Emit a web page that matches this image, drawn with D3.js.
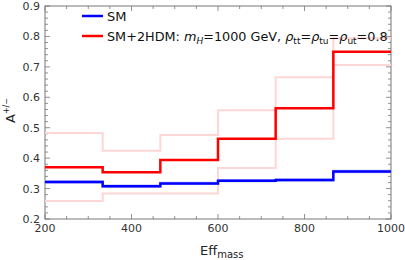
<!DOCTYPE html>
<html>
<head>
<meta charset="utf-8">
<script src="https://cdn.jsdelivr.net/npm/d3@7"></script>
<style>
  body { margin: 0; background: #fff; }
  text { font-family: "DejaVu Sans", sans-serif; }
</style>
</head>
<body>
<div id="chart"></div>
<script>
const binEdges = [200, 333.33, 466.67, 600, 733.33, 866.67, 1000]
const smValues = [0.322, 0.308, 0.317, 0.326, 0.328, 0.356]
const smUpper = [0.325, 0.311, 0.320, 0.329, 0.331, 0.359]
const smLower = [0.319, 0.305, 0.314, 0.323, 0.325, 0.353]
const hdmValues = [0.370, 0.354, 0.394, 0.464, 0.564, 0.750]
const hdmUpper = [0.483, 0.424, 0.476, 0.557, 0.666, 0.794]
const hdmLower = [0.259, 0.284, 0.284, 0.368, 0.464, 0.706]
const xTicks = [200, 400, 600, 800, 1000]
const yTicks = [0.2, 0.3, 0.4, 0.5, 0.6, 0.7, 0.8, 0.9]

document.addEventListener("DOMContentLoaded", () => {
  const config = { "w": 405, "h": 260, "left": 45, "right": 391, "top": 6, "bottom": 219 }

  const x_scale = d3.scaleLinear().domain([200, 1000]).range([config.left, config.right])
  const y_scale = d3.scaleLinear().domain([0.2, 0.9]).range([config.bottom, config.top])

  const svg = d3.select("#chart").append("svg")
      .attr("width", config.w).attr("height", config.h)

  const frameColor = "#777"

  // frame
  svg.append("rect")
     .attr("x", config.left).attr("y", config.top)
     .attr("width", config.right - config.left).attr("height", config.bottom - config.top)
     .attr("fill", "none").attr("stroke", frameColor).attr("stroke-width", 1)

  // ticks pointing inward on all sides
  const xMinor = d3.range(200, 1001, 50)
  const yMinor = d3.range(0.2, 0.9001, 0.02)
  const tickG = svg.append("g").attr("stroke", frameColor).attr("stroke-width", 0.8)
  xMinor.forEach(v => {
    const major = xTicks.includes(v)
    const len = major ? 5 : 3
    tickG.append("line").attr("x1", x_scale(v)).attr("x2", x_scale(v))
      .attr("y1", config.bottom).attr("y2", config.bottom - len)
    tickG.append("line").attr("x1", x_scale(v)).attr("x2", x_scale(v))
      .attr("y1", config.top).attr("y2", config.top + len)
  })
  yMinor.forEach(v => {
    const major = Math.abs(Math.round(v * 10) - v * 10) < 1e-6
    const len = major ? 5 : 3
    tickG.append("line").attr("y1", y_scale(v)).attr("y2", y_scale(v))
      .attr("x1", config.left).attr("x2", config.left + len)
    tickG.append("line").attr("y1", y_scale(v)).attr("y2", y_scale(v))
      .attr("x1", config.right).attr("x2", config.right - len)
  })

  // tick labels
  svg.append("g").selectAll("text").data(xTicks).enter().append("text")
     .attr("x", d => x_scale(d)).attr("y", config.bottom + 13)
     .attr("text-anchor", "middle").attr("font-size", 11).attr("fill", "#333")
     .text(d => d)
  svg.append("g").selectAll("text").data(yTicks).enter().append("text")
     .attr("x", config.left - 5).attr("y", d => y_scale(d) + 4)
     .attr("text-anchor", "end").attr("font-size", 11).attr("fill", "#333")
     .text(d => d.toFixed(1))

  // axis titles
  const xl = svg.append("text").attr("x", 200).attr("y", 255)
     .attr("font-size", 13).attr("fill", "#222")
  xl.append("tspan").text("Eff")
  xl.append("tspan").attr("dy", 3).attr("font-size", 10).text("mass")

  const yl = svg.append("text").attr("transform", "translate(15,123) rotate(-90)")
     .attr("font-size", 13).attr("fill", "#222")
  yl.append("tspan").text("A")
  yl.append("tspan").attr("dy", -6).attr("font-size", 8).text("+/−")

  // step lines
  const stepPts = vals => binEdges.map((e, i) => [e, vals[Math.min(i, vals.length - 1)]])
  const line = d3.line().x(d => x_scale(d[0])).y(d => y_scale(d[1])).curve(d3.curveStepAfter)

  const series = [
    { vals: hdmUpper, color: "#ffd6d6", width: 2 },
    { vals: hdmLower, color: "#ffd6d6", width: 2 },
    { vals: smUpper, color: "#b8b8ff", width: 1.5 },
    { vals: smLower, color: "#b8b8ff", width: 1.5 },
    { vals: smValues, color: "#0000ff", width: 2.5 },
    { vals: hdmValues, color: "#ff0000", width: 2.5 }
  ]
  svg.append("g").selectAll("path").data(series).enter().append("path")
     .attr("d", d => line(stepPts(d.vals)))
     .attr("fill", "none").attr("stroke", d => d.color).attr("stroke-width", d => d.width)

  // legend
  const lg = svg.append("g")
  lg.append("line").attr("x1", 82).attr("x2", 103).attr("y1", 16).attr("y2", 16)
    .attr("stroke", "#0000ff").attr("stroke-width", 2.5)
  lg.append("line").attr("x1", 82).attr("x2", 103).attr("y1", 36).attr("y2", 36)
    .attr("stroke", "#ff0000").attr("stroke-width", 2.5)
  lg.append("text").attr("x", 107).attr("y", 21).attr("font-size", 13).attr("fill", "#111").text("SM")
  const t2 = lg.append("text").attr("x", 107).attr("y", 41).attr("font-size", 12.8).attr("fill", "#111")
  t2.append("tspan").text("SM+2HDM: ")
  t2.append("tspan").attr("font-style", "italic").text("m")
  t2.append("tspan").attr("font-style", "italic").attr("font-size", 9).attr("dy", 3).text("H")
  t2.append("tspan").attr("dy", -3).text("=1000 GeV, ")
  const subs = ["tt", "tu", "ut"]
  subs.forEach(s => {
    t2.append("tspan").attr("font-style", "italic").text("ρ")
    t2.append("tspan").attr("font-size", 9).attr("dy", 3).text(s)
    t2.append("tspan").attr("dy", -3).text("=")
  })
  t2.append("tspan").text("0.8")
})
</script>
</body>
</html>
